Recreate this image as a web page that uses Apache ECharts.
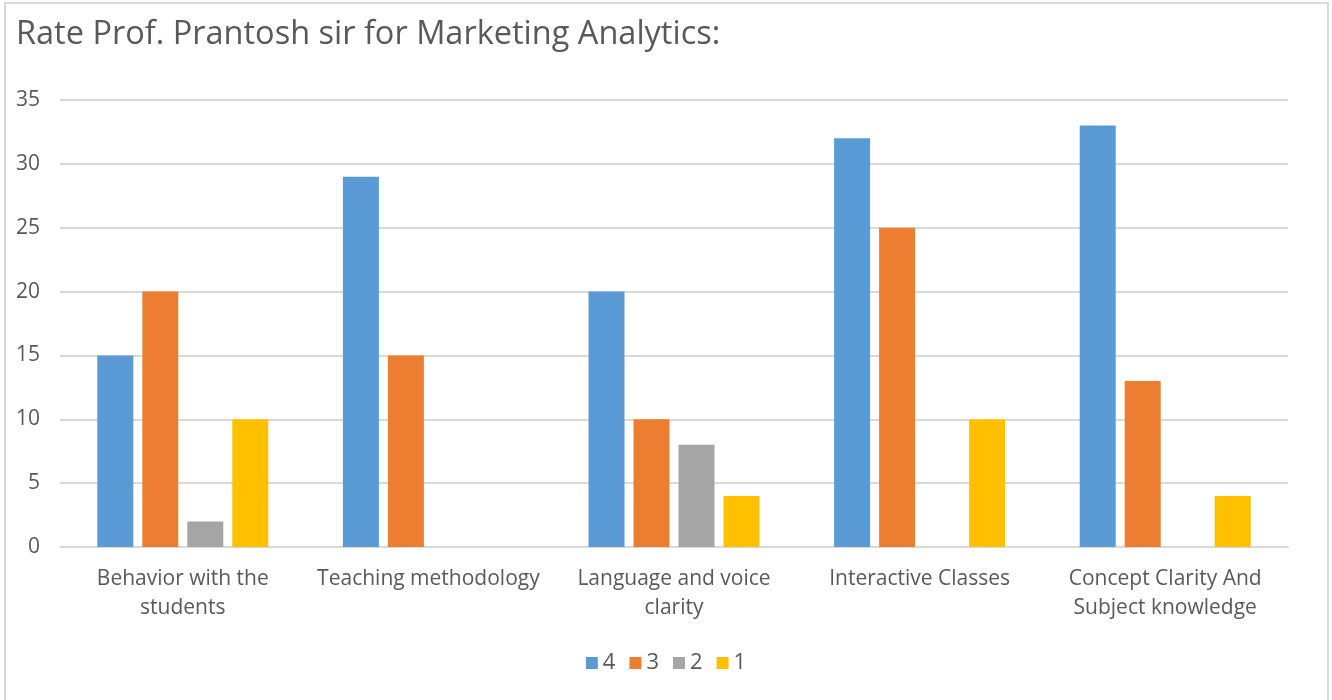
<!DOCTYPE html>
<html>
<head>
<meta charset="utf-8">
<script src="https://cdn.jsdelivr.net/npm/echarts@6/dist/echarts.min.js"></script>
<style>
  html, body { margin: 0; padding: 0; background: #fff; }
  #chart { width: 1332px; height: 700px; }
</style>
</head>
<body>
<div id="chart"></div>
<script>
// chart data
let categories = ['Behavior with the\nstudents', 'Teaching methodology', 'Language and voice\nclarity', 'Interactive Classes', 'Concept Clarity And\nSubject knowledge'];
let rating4 = [15, 29, 20, 32, 33];
let rating3 = [20, 15, 10, 25, 13];
let rating2 = [2, null, 8, null, null];
let rating1 = [10, null, 4, 10, 4];
let yTicks = [0, 5, 10, 15, 20, 25, 30, 35];

let myChart = echarts.init(document.getElementById('chart'));
let textFont = 'Open Sans';
let textColor = '#595959';

function bar(name, data, color) {
    return {
        name: name,
        type: 'bar',
        data: data,
        barWidth: 36,
        barGap: '25%',
        itemStyle: { color: color },
        emphasis: { disabled: true }
    };
}

let option = {
    animation: false,
    title: {
        text: 'Rate Prof. Prantosh sir for Marketing Analytics:',
        left: 11,
        top: 13,
        textStyle: { fontFamily: textFont, fontSize: 32.5, fontWeight: 'normal', color: textColor }
    },
    graphic: [{
        type: 'rect',
        shape: { x: 5, y: 3, width: 1323, height: 710 },
        style: { fill: 'none', stroke: '#d9d9d9', lineWidth: 2 },
        silent: true
    }],
    legend: {
        bottom: 21,
        left: 'center',
        itemWidth: 12,
        itemHeight: 12,
        itemGap: 14,
        icon: 'rect',
        textStyle: { fontFamily: textFont, fontSize: 22, color: textColor },
        data: ['4', '3', '2', '1']
    },
    grid: { left: 60, right: 44, top: 100, bottom: 153 },
    xAxis: {
        type: 'category',
        data: categories,
        axisLine: { lineStyle: { color: '#d9d9d9', width: 2 } },
        axisTick: { show: false },
        axisLabel: { interval: 0, fontFamily: textFont, fontSize: 21, color: textColor, lineHeight: 29, margin: 18 }
    },
    yAxis: {
        type: 'value',
        min: yTicks[0],
        max: yTicks[yTicks.length - 1],
        interval: 5,
        axisLine: { show: false },
        axisTick: { show: false },
        splitLine: { lineStyle: { color: '#d9d9d9', width: 2 } },
        axisLabel: { fontFamily: textFont, fontSize: 21, color: textColor, margin: 20 }
    },
    series: [
        bar('4', rating4, '#5b9bd5'),
        bar('3', rating3, '#ed7d31'),
        bar('2', rating2, '#a5a5a5'),
        bar('1', rating1, '#ffc000')
    ]
};
myChart.setOption(option);
</script>
</body>
</html>
